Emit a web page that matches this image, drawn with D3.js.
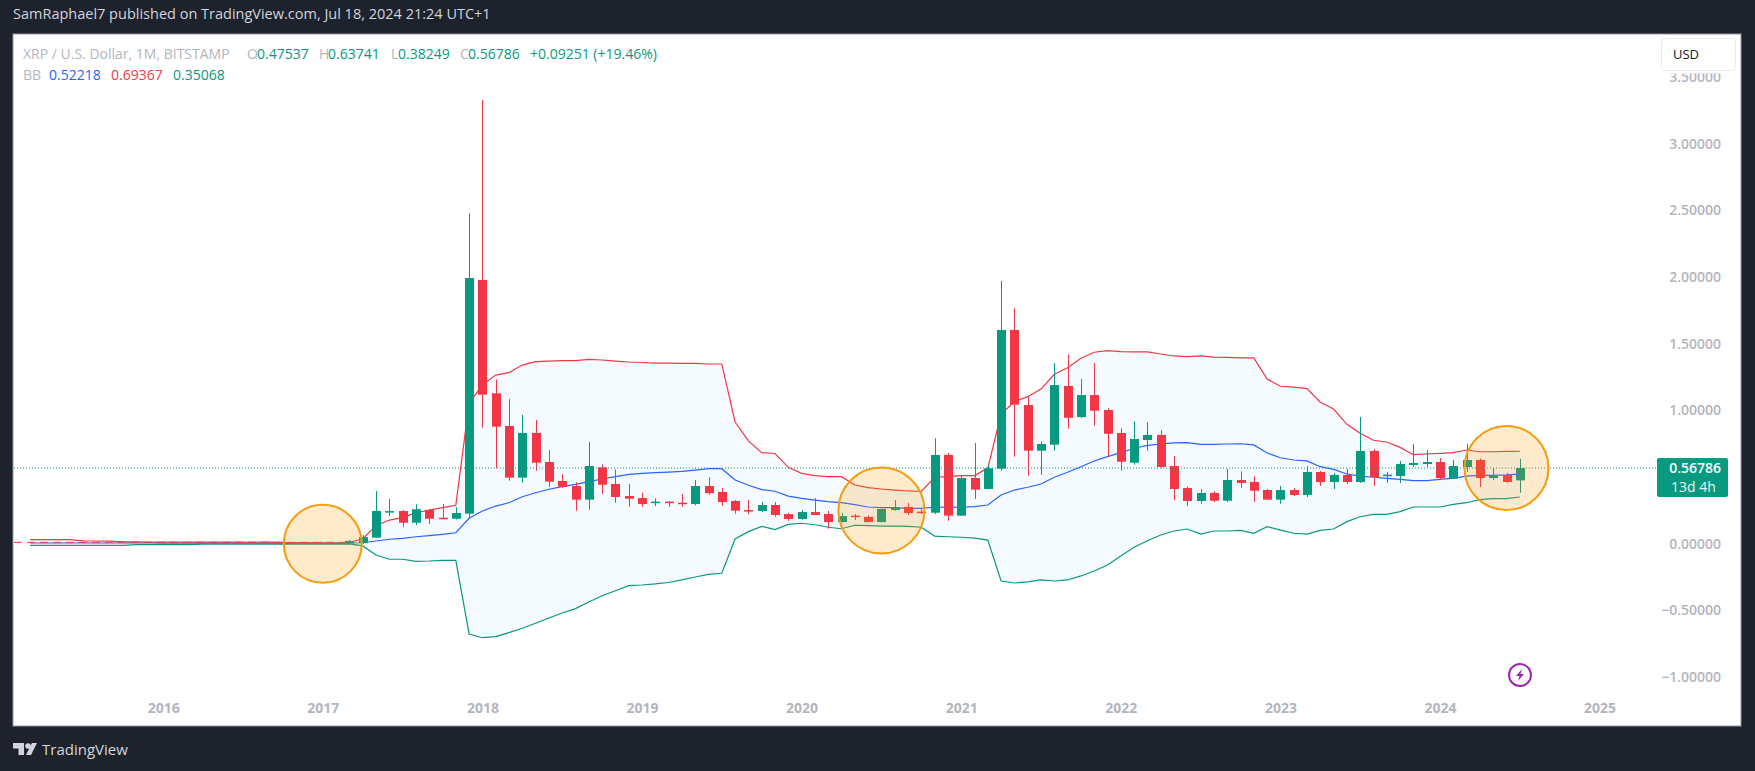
<!DOCTYPE html>
<html>
<head>
<meta charset="utf-8">
<title>XRP / U.S. Dollar, 1M</title>
<script src="https://cdn.jsdelivr.net/npm/d3@7"></script>
<style>
  html, body { margin: 0; padding: 0; background: #1e222d; }
  svg { display: block; }
  text { font-family: "Open Sans", "Noto Sans", sans-serif; }
</style>
</head>
<body>
<div id="chart"></div>
<script>
// monthly candles, Mar 2017 .. Jul 2024
const opens = [
  .003, .005, .046, .238, .246, .158, .253, .195, .188, .226,
  1.978, 1.128, .883, .496, .831, .613, .471, .433, .331, .573, .448, .358,
  .343, .306, .316, .308, .298, .433, .388, .321, .253, .246, .291, .223,
  .186, .238, .223, .163, .211, .201, .163, .253, .276, .241, .233, .666,
  .211, .493, .411, .563, 1.603, 1.04, .698, .743, 1.183, .95, 1.115, 1.003,
  .831, .608, .778, .816, .583, .418, .321, .381, .323, .478, .463, .403,
  .331, .403, .366, .538, .463, .516, .463, .696, .508, .508, .591, .598,
  .613, .488, .576, .628, .493, .516, .47537
];
const highs = [
  .028, .065, .396, .336, .254, .296, .259, .298, .274, 2.477,
  3.327, 1.233, 1.085, .966, .928, .703, .521, .461, .763, .596, .558, .448,
  .383, .341, .321, .373, .478, .499, .418, .328, .328, .313, .313, .233,
  .253, .343, .246, .231, .223, .213, .261, .328, .306, .268, .791, .681,
  .511, .756, .593, 1.97, 1.765, 1.1, .768, 1.355, 1.42, 1.235, 1.355, 1.016,
  .866, .918, .911, .853, .658, .428, .411, .393, .561, .543, .506, .411,
  .433, .418, .583, .546, .531, .561, .951, .711, .538, .621, .748, .703,
  .643, .628, .748, .638, .568, .531, .63741
];
const lows = [
  .002, .000, .046, .208, .128, .141, .148, .184, .184, .191,
  .870, .566, .473, .458, .548, .428, .42, .248, .256, .373, .308, .278,
  .276, .283, .276, .276, .288, .368, .286, .226, .221, .238, .203, .171,
  .181, .216, .113, .158, .178, .161, .161, .248, .216, .223, .223, .173,
  .208, .336, .408, .548, .653, .51, .518, .698, .863, .945, .885, .653,
  .548, .593, .698, .568, .328, .283, .301, .313, .313, .42, .313, .328,
  .301, .358, .351, .433, .411, .448, .456, .433, .456, .456, .576, .576,
  .478, .486, .538, .426, .478, .456, .38249
];
const closes = [
  .022, .050, .246, .245, .158, .259, .188, .185, .231, 1.992,
  1.118, .878, .496, .831, .608, .466, .428, .331, .583, .443, .351, .338,
  .298, .316, .308, .3, .433, .379, .313, .248, .246, .291, .216, .186,
  .238, .216, .163, .208, .201, .163, .261, .276, .231, .236, .666, .211,
  .493, .406, .566, 1.603, 1.043, .698, .748, 1.19, .945, 1.115, .998, .825,
  .615, .786, .816, .576, .411, .321, .381, .323, .478, .456, .398, .331,
  .403, .366, .538, .463, .516, .463, .696, .501, .518, .598, .606, .613,
  .493, .583, .628, .493, .513, .463, .56786
];

// bollinger bands, Mar 2015 .. Jul 2024
const bbUpper = [
  .031, .031, .031, .031, .022, .021, .020, .015, .014, .013,
  .013, .012, .012, .012, .012, .012, .012, .012, .012, .010, .008, .007,
  .006, .006, .010, .036, .136, .178, .196, .233, .253, .271, .289, 1.055,
  1.19, 1.265, 1.283, 1.34, 1.365, 1.37, 1.373, 1.373, 1.383, 1.378, 1.37, 1.363,
  1.359, 1.355, 1.355, 1.352, 1.352, 1.348, 1.348, .913, .771, .683, .677, .573,
  .528, .511, .503, .503, .441, .421, .411, .403, .396, .392, .499, .503,
  .511, .511, .568, .973, 1.065, 1.103, 1.16, 1.271, 1.32, 1.391, 1.436, 1.448,
  1.44, 1.438, 1.438, 1.423, 1.408, 1.403, 1.408, 1.4, 1.397, 1.393, 1.393, 1.235,
  1.181, 1.175, 1.163, 1.061, 1.01, .896, .828, .776, .763, .723, .668, .673,
  .678, .683, .703, .69, .69, .693, .69367
];
const bbBasis = [
  .006, .006, .006, .006, .006, .006, .006, .006, .006, .006,
  .004, .004, .004, .004, .004, .004, .004, .004, .004, .004, .004, .004,
  .004, .004, .006, .008, .021, .034, .041, .053, .061, .071, .083, .191,
  .246, .283, .308, .353, .383, .409, .428, .446, .466, .486, .503, .521,
  .528, .533, .538, .543, .553, .563, .563, .478, .439, .406, .394, .358,
  .341, .328, .316, .308, .293, .276, .271, .271, .266, .265, .274, .276,
  .274, .278, .291, .366, .403, .424, .448, .499, .536, .578, .621, .653,
  .683, .716, .738, .748, .756, .758, .746, .746, .748, .75, .741, .681,
  .645, .628, .621, .578, .558, .523, .508, .499, .491, .483, .473, .473,
  .483, .493, .508, .513, .513, .516, .52218
];
const bbLower = [
  -.012, -.012, -.012, -.012, -.012, -.012, -.012, -.012, -.006, -.006,
  -.006, -.006, -.006, -.003, -.003, -.003, -.003, -.003, -.003, -.003, -.003, -.003,
  -.002, -.002, .000, -.016, -.084, -.116, -.116, -.131, -.129, -.124, -.124, -.676,
  -.704, -.696, -.666, -.633, -.596, -.556, -.519, -.486, -.436, -.389, -.352, -.314,
  -.309, -.301, -.29, -.271, -.249, -.229, -.221, .036, .091, .131, .106, .146,
  .154, .143, .124, .113, .139, .136, .133, .133, .131, .124, .058, .053,
  .049, .043, .028, -.279, -.294, -.286, -.271, -.279, -.271, -.241, -.204, -.159,
  -.091, -.026, .023, .066, .096, .111, .073, .096, .096, .101, .079, .128,
  .103, .079, .073, .101, .111, .166, .203, .221, .221, .241, .276, .276,
  .276, .296, .308, .331, .338, .338, .35068
];

// 0.50000 sits hidden behind the last price label, so it is left out
const priceTicks = [-1, -0.5, 0, 1, 1.5, 2, 2.5, 3, 3.5];
const yearTicks = ['2016', '2017', '2018', '2019', '2020', '2021', '2022', '2023', '2024', '2025'];
const lastPrice = 0.56786;
const zeroDash = 0.011;

// the grey stretch where the flat lines pile up before the first candles
const flatMonths = ['2016-10', '2017-03'];
const flatPrice = 0.004;

// the orange highlight circles, by month and price
const circleMonths = ['2017-01', '2020-07', '2024-06'];
const circlePrices = [0, 0.25, 0.568];
const circleRadii = [39, 43, 42];

const width = 1755;
const height = 771;
const panel = { left: 13, top: 34, right: 1741, bottom: 726 };

// every month from the first band value to the last year label
const fmtMonth = d3.utcFormat('%Y-%m');
const months = d3.utcMonth.range(new Date(Date.UTC(2015, 2, 1)), new Date(Date.UTC(2025, 1, 1))).map(fmtMonth);
const bbMonths = months.slice(0, bbBasis.length);
const candleMonths = months.slice(months.indexOf('2017-03'), months.indexOf('2017-03') + closes.length);

const x = d3.scalePoint().domain(months).range([30.2, 30.2 + 13.3 * (months.length - 1)]);
const y = d3.scaleLinear().domain([-1, 3.5]).range([677.2, 76.9]);

const UP = '#089981';
const DOWN = '#f23645';
const BLUE = '#2962ff';

const svg = d3.select('#chart').append('svg')
  .attr('width', width)
  .attr('height', height);

svg.append('rect')
  .attr('width', width).attr('height', height)
  .attr('fill', '#1e222d');

svg.append('rect')
  .attr('x', panel.left).attr('y', panel.top)
  .attr('width', panel.right - panel.left).attr('height', panel.bottom - panel.top)
  .attr('fill', '#fff')
  .attr('stroke', '#9598a1');

// band fill
const bandArea = d3.area()
  .x((d, i) => x(bbMonths[i]))
  .y0((d, i) => y(bbLower[i]))
  .y1(d => y(d));

svg.append('path')
  .attr('d', bandArea(bbUpper))
  .attr('fill', '#2196f3')
  .attr('fill-opacity', 0.05);

// band lines
const bandLine = d3.line()
  .x((d, i) => x(bbMonths[i]))
  .y(d => y(d));

[[bbLower, UP], [bbUpper, DOWN], [bbBasis, BLUE]].forEach(([vals, color]) => {
  svg.append('path')
    .attr('d', bandLine(vals))
    .attr('fill', 'none')
    .attr('stroke', color)
    .attr('stroke-width', 1.2);
});

svg.append('line')
  .attr('x1', x(flatMonths[0])).attr('x2', x(flatMonths[1]))
  .attr('y1', y(flatPrice)).attr('y2', y(flatPrice))
  .attr('stroke', '#6d6d70')
  .attr('stroke-width', 1.5);

// dashed red line along zero on the left
svg.append('line')
  .attr('x1', panel.left + 1).attr('x2', x('2017-03'))
  .attr('y1', y(zeroDash)).attr('y2', y(zeroDash))
  .attr('stroke', DOWN)
  .attr('stroke-dasharray', '8 5');

// candles
const candles = svg.append('g')
  .selectAll('g')
  .data(closes)
  .enter()
  .append('g');

const candleColor = (d, i) => d >= opens[i] ? UP : DOWN;
const candleX = i => Math.round(x(candleMonths[i]));

candles.append('line')
  .attr('x1', (d, i) => candleX(i) + 0.5)
  .attr('x2', (d, i) => candleX(i) + 0.5)
  .attr('y1', (d, i) => y(highs[i]))
  .attr('y2', (d, i) => y(lows[i]))
  .attr('stroke', candleColor);

candles.append('rect')
  .attr('x', (d, i) => candleX(i) - 4)
  .attr('width', 9)
  .attr('y', (d, i) => y(Math.max(d, opens[i])))
  .attr('height', (d, i) => Math.max(1.5, Math.abs(y(d) - y(opens[i]))))
  .attr('fill', candleColor);

// last price line
svg.append('line')
  .attr('x1', panel.left + 1).attr('x2', 1657)
  .attr('y1', y(lastPrice)).attr('y2', y(lastPrice))
  .attr('stroke', UP)
  .attr('stroke-dasharray', '1 2');

// highlight circles
svg.append('g')
  .selectAll('circle')
  .data(circleMonths)
  .enter()
  .append('circle')
  .attr('cx', d => x(d))
  .attr('cy', (d, i) => y(circlePrices[i]))
  .attr('r', (d, i) => circleRadii[i])
  .attr('fill', '#ff9800')
  .attr('fill-opacity', 0.2)
  .attr('stroke', '#f59d0e')
  .attr('stroke-width', 2);

// axes
const axisFormat = d => (d < 0 ? '\u2212' : '') + Math.abs(d).toFixed(5);

const yAxis = svg.append('g')
  .attr('transform', 'translate(1721,0)')
  .call(d3.axisLeft(y).tickValues(priceTicks).tickSize(0).tickPadding(0).tickFormat(axisFormat));
yAxis.select('.domain').remove();
yAxis.selectAll('text')
  .attr('fill', '#b2b5be')
  .style('font-family', '"Open Sans", sans-serif')
  .style('font-size', '14px')
  .style('font-weight', 600);

const xAxis = svg.append('g')
  .attr('transform', 'translate(0,703)')
  .call(d3.axisBottom(x).tickValues(yearTicks.map(d => d + '-01')).tickSize(0).tickPadding(0)
    .tickFormat(d => d.slice(0, 4)));
xAxis.select('.domain').remove();
xAxis.selectAll('text')
  .attr('fill', '#b2b5be')
  .style('font-family', '"Open Sans", sans-serif')
  .style('font-size', '14px')
  .style('font-weight', 700);

// USD button sits over the top tick and cuts it in half
svg.append('rect')
  .attr('x', 1656).attr('y', 36)
  .attr('width', 84).attr('height', 37.5)
  .attr('fill', '#fff');
svg.append('rect')
  .attr('x', 1661.5).attr('y', 38.5)
  .attr('width', 74).attr('height', 32)
  .attr('rx', 4)
  .attr('fill', '#fff')
  .attr('stroke', '#e9ebf0');
svg.append('text')
  .attr('x', 1673).attr('y', 59)
  .attr('fill', '#131722')
  .style('font-size', '13px')
  .text('USD');

// last price label
svg.append('rect')
  .attr('x', 1657).attr('y', 458)
  .attr('width', 71).attr('height', 39)
  .attr('rx', 2)
  .attr('fill', UP);
svg.append('text')
  .attr('x', 1721).attr('y', 473)
  .attr('text-anchor', 'end')
  .attr('fill', '#fff')
  .style('font-size', '14px')
  .style('font-weight', 600)
  .text(lastPrice.toFixed(5));
svg.append('text')
  .attr('x', 1671).attr('y', 492)
  .attr('fill', '#e6f5f1')
  .style('font-size', '14px')
  .text('13d 4h');

// header legend
const legend = [
  ['XRP / U.S. Dollar, 1M, BITSTAMP', 23, 54, '#b2b5be'],
  ['O', 247, 54, '#b2b5be'], ['0.47537', 257, 54, UP],
  ['H', 319, 54, '#b2b5be'], ['0.63741', 328, 54, UP],
  ['L', 391, 54, '#b2b5be'], ['0.38249', 398, 54, UP],
  ['C', 460, 54, '#b2b5be'], ['0.56786', 468, 54, UP],
  ['+0.09251 (+19.46%)', 530, 54, UP],
  ['BB', 23, 75, '#b2b5be'],
  ['0.52218', 49, 75, BLUE], ['0.69367', 111, 75, DOWN], ['0.35068', 173, 75, UP]
];
svg.append('g')
  .selectAll('text')
  .data(legend)
  .enter()
  .append('text')
  .attr('x', d => d[1])
  .attr('y', d => d[2] + 5)
  .attr('fill', d => d[3])
  .style('font-size', '14px')
  .text(d => d[0]);

// top bar
svg.append('text')
  .attr('x', 13).attr('y', 19)
  .attr('fill', '#d1d4dc')
  .style('font-size', '14.5px')
  .text('SamRaphael7 published on TradingView.com, Jul 18, 2024 21:24 UTC+1');

// lightning badge
const badge = svg.append('g').attr('transform', 'translate(1520,675)');
badge.append('circle')
  .attr('r', 11)
  .attr('fill', '#fff')
  .attr('stroke', '#9c27b0')
  .attr('stroke-width', 2);
badge.append('path')
  .attr('d', 'M2,-6 L-4,1 L-0.5,1 L-2,6 L4,-1 L0.5,-1 Z')
  .attr('fill', '#9c27b0');

// TradingView logo
const logo = svg.append('g').attr('transform', 'translate(13,743)').attr('fill', '#d1d4dc');
logo.append('path').attr('d', 'M0,0 H11 V12 H5.5 V5.5 H0 Z');
logo.append('circle').attr('cx', 15).attr('cy', 3).attr('r', 2.8);
logo.append('path').attr('d', 'M19,0 H24 L18,12 H13 Z');
svg.append('text')
  .attr('x', 42).attr('y', 755)
  .attr('fill', '#d1d4dc')
  .style('font-size', '15px')
  .text('TradingView');
</script>
</body>
</html>
